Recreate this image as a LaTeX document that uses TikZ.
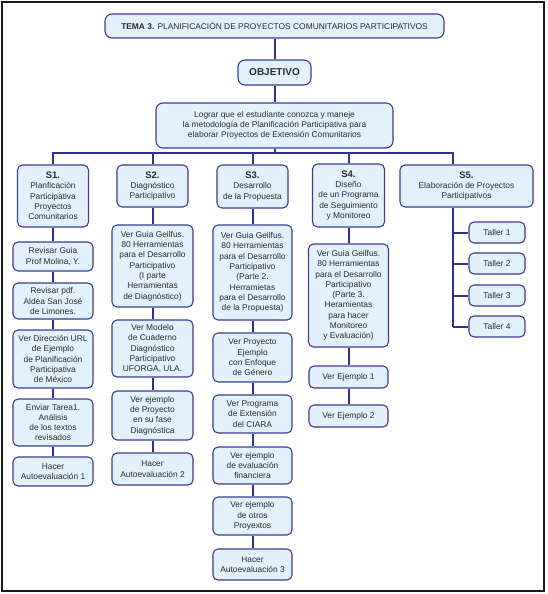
\documentclass[tikz,border=0pt]{standalone}
\usepackage{fontspec}
\setmainfont{Liberation Sans}
\usetikzlibrary{positioning}
\definecolor{boxline}{HTML}{3D3A94}
\definecolor{boxfill}{HTML}{E2F1FC}
\definecolor{wire}{HTML}{2E3192}
\definecolor{ink}{HTML}{2B2B2B}
\definecolor{frame}{HTML}{1A1A1A}
\newcommand{\snum}[1]{{\fontsize{9.5}{10.3}\selectfont\bfseries #1}}
\tikzset{
  % ---- boxes -----------------------------------------------------
  box/.style    = {draw=boxline, fill=boxfill, line width=1.1pt,
                   rounded corners=5pt, align=center, inner sep=0pt,
                   text=ink, font=\fontsize{8.4}{10.3}\selectfont},
  topbox/.style = {box, rounded corners=7pt},
  head/.style   = {box, minimum width=71pt},
  item/.style   = {box, minimum width=80pt},
  taller/.style = {box, minimum width=56pt, minimum height=21pt},
  % ---- connectors ------------------------------------------------
  wire/.style   = {draw=wire, line width=2pt},
  outer/.style  = {draw=frame, line width=1.5pt},
}
\begin{document}
\begin{tikzpicture}[x=1pt,y=-1pt]
  \useasboundingbox (0,0) rectangle (547,594);
  \draw[outer] (2,2) rectangle (544,591);
  % top of the tree
  \node[topbox, minimum width=339pt, minimum height=24pt] (title) at (274.5,26)
    {\textbf{TEMA 3.} PLANIFICACIÓN DE PROYECTOS COMUNITARIOS PARTICIPATIVOS};
  \node[topbox, minimum width=73pt, minimum height=25pt,
        font=\fontsize{10}{12}\selectfont\bfseries] (objt) at (274.5,72.5) {OBJETIVO};
  \node[topbox, minimum width=237pt, minimum height=45pt] (obj) at (274.5,125.5)
    {Lograr que el estudiante conozca y maneje\\la metodología de Planificación Participativa para\\elaborar Proyectos de Extensión Comunitarios};
  % S1
  \node[head, minimum height=62pt] (s1) at (53,196) {\snum{S1.}\\Planficación\\Participativa\\Proyectos\\Comunitarios};
  \node[item, minimum height=29pt] (s1a) at (53,256.5) {Revisar Guia\\Prof Molina, Y.};
  \node[item, minimum height=36pt] (s1b) at (53,301) {Revisar pdf.\\Aldea San José\\de Limones.};
  \node[item, minimum height=58pt] (s1c) at (53,359) {Ver Dirección URL\\de Ejemplo\\de Planificación\\Participativa\\de México};
  \node[item, minimum height=47pt] (s1d) at (53,422.5) {Enviar Tarea1.\\Análisis\\de los textos\\revisados};
  \node[item, minimum height=29pt] (s1e) at (53,471.5) {Hacer\\Autoevaluación 1};
  % S2
  \node[head, minimum height=42pt] (s2) at (152.5,186) {\snum{S2.}\\Diagnóstico\\Participativo};
  \node[item, minimum width=81pt, minimum height=82pt] (s2a) at (152.5,266) {Ver Guia Geilfus.\\80 Herramientas\\para el Desarrollo\\Participativo\\(I parte\\Herramientas\\de Diagnóstico)};
  \node[item, minimum width=81pt, minimum height=57pt] (s2b) at (152.5,348.5) {Ver Modelo\\de Cuaderno\\Diagnóstico\\Participativo\\UFORGA, ULA.};
  \node[item, minimum width=81pt, minimum height=49pt] (s2c) at (152.5,415.5) {Ver ejemplo\\de Proyecto\\en su fase\\Diagnóstica};
  \node[item, minimum width=81pt, minimum height=32pt] (s2d) at (152.5,469) {Hacer\\Autoevaluación 2};
  % S3
  \node[head, minimum height=43pt] (s3) at (252.5,186.5) {\snum{S3.}\\Desarrollo\\de la Propuesta};
  \node[item, minimum width=79pt, minimum height=95pt] (s3a) at (252.5,272.5) {Ver Guia Geilfus.\\80 Herramientas\\para el Desarrollo\\Participativo\\(Parte 2.\\Herramietas\\para el Desarrollo\\de la Propuesta)};
  \node[item, minimum width=79pt, minimum height=49pt] (s3b) at (252.5,357.5) {Ver Proyecto\\Ejemplo\\con Enfoque\\de Género};
  \node[item, minimum width=79pt, minimum height=38pt] (s3c) at (252.5,414) {Ver Programa\\de Extensión\\del CIARA};
  \node[item, minimum width=79pt, minimum height=37pt] (s3d) at (252.5,465.5) {Ver ejemplo\\de evaluación\\financiera};
  \node[item, minimum width=79pt, minimum height=38pt] (s3e) at (252.5,516) {Ver ejemplo\\de otros\\Proyextos};
  \node[item, minimum width=79pt, minimum height=31pt] (s3f) at (252.5,564.5) {Hacer\\Autoevaluación 3};
  % S4
  \node[head, minimum width=72pt, minimum height=63pt] (s4) at (348.5,195.5) {\snum{S4.}\\Diseño\\de un Programa\\de Seguimiento\\y Monitoreo};
  \node[item, minimum height=103pt] (s4a) at (348.5,295.5) {Ver Guia Geilfus.\\80 Herramientas\\para el Desarrollo\\Participativo\\(Parte 3.\\Heramientas\\para hacer\\Monitoreo\\y Evaluación)};
  \node[item, minimum width=79pt, minimum height=22pt] (s4b) at (348.5,377) {Ver Ejemplo 1};
  \node[item, minimum width=79pt, minimum height=22pt] (s4c) at (348.5,416) {Ver Ejemplo 2};
  % S5
  \node[head, minimum width=133pt, minimum height=42pt] (s5) at (466.5,186) {\snum{S5.}\\Elaboración de Proyectos\\Participativos};
  \node[taller] (t1) at (497,232.5) {Taller 1};
  \node[taller] (t2) at (497,263.5) {Taller 2};
  \node[taller] (t3) at (497,295.5) {Taller 3};
  \node[taller] (t4) at (497,326.5) {Taller 4};
  % connectors
  \coordinate (busR) at (453,153);
  \coordinate (spine) at (453,0);
  \draw[wire] (title) -- (objt);
  \draw[wire] (objt) -- (obj);
  \draw[wire] (obj) -- (obj |- busR);
  \draw[wire] (s1.north) |- (busR) -- (busR |- s5.north);
  \foreach \s in {s2,s3,s4}
    \draw[wire] (\s |- busR) -- (\s);
  \foreach \a/\b in {s1/s1a,s1a/s1b,s1b/s1c,s1c/s1d,s1d/s1e,
                     s2/s2a,s2a/s2b,s2b/s2c,s2c/s2d,
                     s3/s3a,s3a/s3b,s3b/s3c,s3c/s3d,s3d/s3e,s3e/s3f,
                     s4/s4a,s4a/s4b,s4b/s4c}
    \draw[wire] (\a) -- (\b);
  \draw[wire] (spine |- s5.south) -- (spine |- t4);
  \foreach \i in {1,...,4}
    \draw[wire] (spine |- t\i) -- (t\i);
\end{tikzpicture}
\end{document}
